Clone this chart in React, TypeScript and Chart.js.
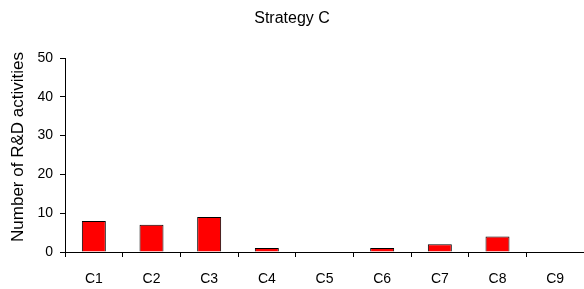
import React, { useEffect, useRef } from "react";
import { Chart, registerables } from "chart.js";

Chart.register(...registerables);

const categories = ["C1", "C2", "C3", "C4", "C5", "C6", "C7", "C8", "C9"];
const activities = [8, 7, 9, 1, 0, 1, 2, 4, 0];
const yTicks = [0, 10, 20, 30, 40, 50];
const yAxisTitle = "Number of R&D activities";

const family = "'Liberation Sans', Arial, sans-serif";

const yTitlePlugin = {
  id: "yTitle",
  afterDraw(chart: any) {
    const ctx = chart.ctx;
    ctx.save();
    ctx.translate(18.5, 147);
    ctx.rotate(-Math.PI / 2);
    ctx.font = `17px ${family}`;
    ctx.fillStyle = "#000";
    ctx.textAlign = "center";
    ctx.textBaseline = "middle";
    ctx.fillText(yAxisTitle, 0, 0);
    ctx.restore();
  },
};

export default function App() {
  const ref = useRef<HTMLCanvasElement>(null);
  useEffect(() => {
    document.body.style.margin = "0";
    const tickFont = { family, size: 14 };
    const chart = new Chart(ref.current!, {
      type: "bar",
      data: {
        labels: categories,
        datasets: [
          {
            data: activities,
            backgroundColor: "#FF0000",
            borderColor: "#000000",
            borderWidth: 1,
            barPercentage: 0.416,
            categoryPercentage: 1,
          },
        ],
      },
      plugins: [yTitlePlugin],
      options: {
        responsive: false,
        animation: false,
        layout: { padding: { left: 0, right: 0, top: 0, bottom: 0 } },
        plugins: {
          legend: { display: false },
          tooltip: { enabled: false },
          title: {
            display: true,
            text: "Strategy C",
            color: "#000",
            font: { family, size: 16, weight: "normal" },
            padding: { top: 9, bottom: 29.8 },
          },
        },
        scales: {
          x: {
            afterFit: (s: any) => {
              s.height = 37;
            },
            grid: {
              offset: true,
              drawOnChartArea: false,
              drawTicks: true,
              tickLength: 5,
              color: "#000",
            },
            border: { display: true, color: "#000", width: 1 },
            ticks: { color: "#000", font: tickFont, padding: 14, maxRotation: 0 },
          },
          y: {
            min: 0,
            max: 50,
            afterFit: (s: any) => {
              s.width = 65;
            },
            afterBuildTicks: (s: any) => {
              s.ticks = yTicks.map((v) => ({ value: v }));
            },
            grid: {
              drawOnChartArea: false,
              drawTicks: true,
              tickLength: 5,
              color: "#000",
            },
            border: { display: true, color: "#000", width: 1 },
            ticks: { color: "#000", font: tickFont, padding: 7 },
          },
        },
      },
    });
    return () => chart.destroy();
  }, []);
  return (
    <div style={{ position: "absolute", left: 0, top: 0, width: 584, height: 289 }}>
      <canvas ref={ref} width={584} height={289} />
    </div>
  );
}
